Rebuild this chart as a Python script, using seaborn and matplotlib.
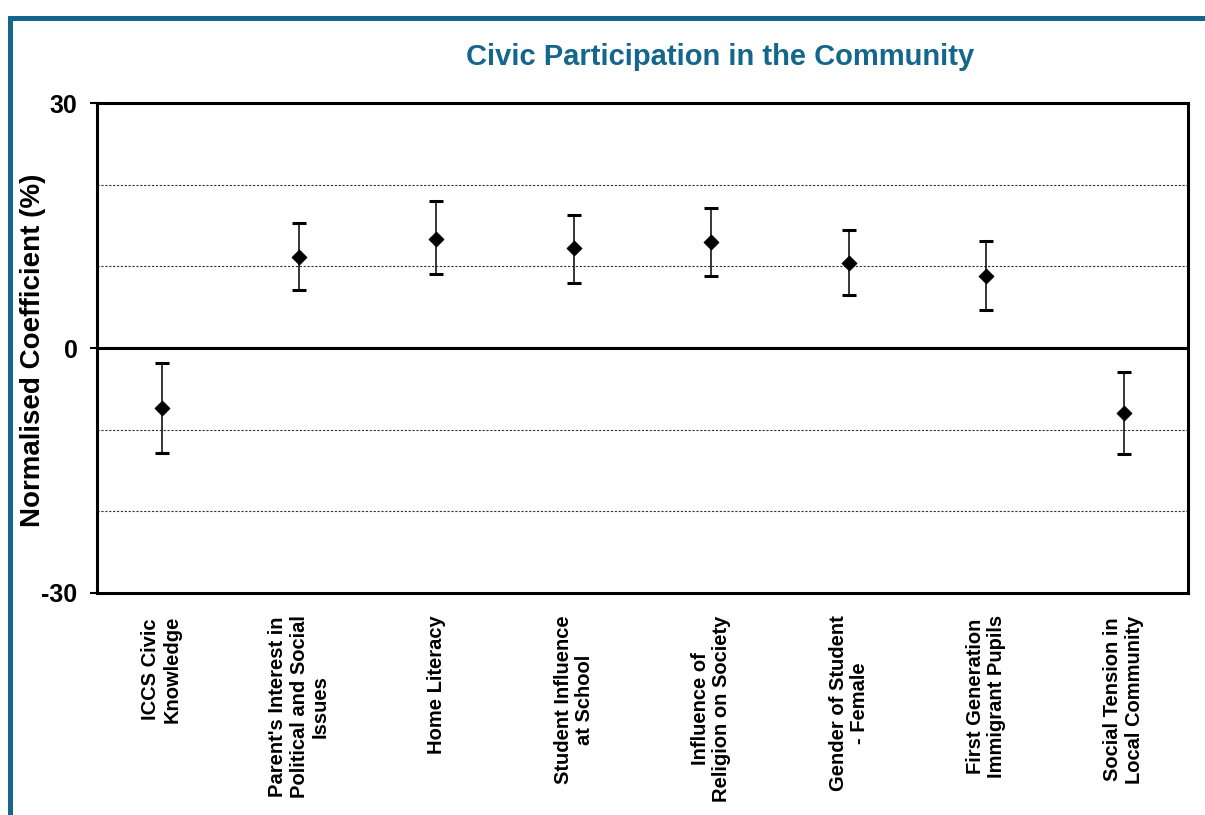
"""Civic participation: normalised coefficients with error bars."""

import matplotlib
matplotlib.use("Agg")
import matplotlib.pyplot as plt
import numpy as np
import pandas as pd
import seaborn as sns
from matplotlib.patches import Rectangle

categories = [
    "ICCS Civic\nKnowledge",
    "Parent's Interest in\nPolitical and Social\nIssues",
    "Home Literacy",
    "Student Influence\nat School",
    "Influence of\nReligion on Society",
    "Gender of Student\n- Female",
    "First Generation\nImmigrant Pupils",
    "Social Tension in\nLocal Community",
]
coef = [-7.3, 11.1, 13.3, 12.2, 13.0, 10.4, 8.8, -8.0]
upper = [-1.8, 15.3, 18.0, 16.3, 17.1, 14.4, 13.1, -2.9]
lower = [-12.9, 7.1, 9.1, 8.0, 8.8, 6.5, 4.7, -13.0]
yticks = [-30, 0, 30]
gridlines = [-20, -10, 10, 20]

TEAL = "#14668c"

sns.set_theme(style="white")
plt.rcParams["font.family"] = ["Liberation Sans", "DejaVu Sans"]
for key in ("text.color", "axes.labelcolor", "xtick.color", "ytick.color"):
    plt.rcParams[key] = "black"

df = pd.DataFrame({"pos": np.arange(len(categories)), "coef": coef,
                   "upper": upper, "lower": lower})

fig = plt.figure(figsize=(12.05, 8.15), dpi=100)
ax = fig.add_axes([0.0805, 0.2724, 0.9055, 0.6012])

# outer teal frame (runs off the right and bottom edges)
fig.patches.append(Rectangle((0.0083, -0.1), 1.2, 1.0785, transform=fig.transFigure,
                             fill=False, edgecolor=TEAL, linewidth=3.6, zorder=0))

for g in gridlines:
    ax.axhline(g, color="#333333", linestyle=(0, (2, 1.5)), linewidth=0.8, zorder=1)
ax.axhline(0, color="black", linewidth=2.2, zorder=2)

yerr = np.array([df["coef"] - df["lower"], df["upper"] - df["coef"]])
ax.errorbar(df["pos"], df["coef"], yerr=yerr, fmt="none", ecolor="black",
            elinewidth=1.1, capsize=5, capthick=2.2, zorder=3)
sns.scatterplot(data=df, x="pos", y="coef", marker="D", s=58, color="black",
                edgecolor="black", ax=ax, zorder=4, legend=False)

ax.set_xlim(-0.47, len(categories) - 0.53)
ax.set_ylim(-30, 30)
ax.set_yticks(yticks)
ax.set_yticklabels([str(t) for t in yticks], fontsize=18, fontweight="bold")
ax.set_xticks(df["pos"])
ax.set_xticklabels(categories, rotation=90, fontsize=14.5, fontweight="bold",
                   va="top", ha="center", multialignment="center", linespacing=1.15)
ax.tick_params(axis="y", which="both", left=True, length=5, width=1.5, pad=9)
ax.tick_params(axis="x", length=0, pad=16)
ax.set_xlabel("")
ax.set_ylabel("")
for s in ax.spines.values():
    s.set_linewidth(2.2)
    s.set_color("black")

fig.text(33 / 1205, 1 - 350 / 815, "Normalised Coefficient (%)", rotation=90,
         fontsize=20, fontweight="bold", ha="center", va="center")
fig.text(0.5975, 0.930, "Civic Participation in the Community", color=TEAL,
         fontsize=21, fontweight="bold", ha="center", va="center")

fig.savefig("out.png", dpi=100)
